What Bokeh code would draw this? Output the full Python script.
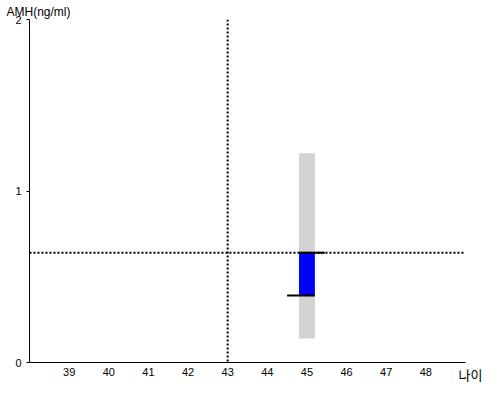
from bokeh.plotting import figure
from bokeh.models import Span, FixedTicker, Title
from bokeh.embed import file_html
from bokeh.resources import INLINE

# Data
ages = [45]
range_low = [0.14]
range_high = [1.22]
value_low = [0.39]
value_high = [0.64]
ref_age = 43
ref_amh = 0.64
x_ticks = [39, 40, 41, 42, 43, 44, 45, 46, 47, 48]
y_ticks = [0, 1, 2]
x_title = "나이"
y_title = "AMH(ng/ml)"

p = figure(width=484, height=384, x_range=(38, 49), y_range=(0, 2),
           output_backend="svg", toolbar_location=None,
           min_border_left=29, min_border_right=19, min_border_top=19, min_border_bottom=22)
p.grid.visible = False
p.outline_line_color = None

p.xaxis.ticker = FixedTicker(ticks=x_ticks)
p.yaxis.ticker = FixedTicker(ticks=y_ticks)
p.xaxis.major_tick_out = 0
p.xaxis.major_tick_in = 0
p.xaxis.minor_tick_out = 0
p.xaxis.minor_tick_in = 0
p.yaxis.major_tick_out = 3
p.yaxis.major_tick_in = 0
p.yaxis.minor_tick_out = 0
p.yaxis.minor_tick_in = 0
for ax in (p.xaxis, p.yaxis):
    ax.axis_line_color = "black"
    ax.major_tick_line_color = "black"
    ax.major_label_text_font = "Liberation Sans"
    ax.major_label_text_font_size = "11px"
    ax.major_label_text_color = "black"
    ax.major_label_standoff = 5

# Bars
p.vbar(x=ages, width=0.4, bottom=range_low, top=range_high, color="#D3D3D3", line_color=None)
p.vbar(x=ages, width=0.4, bottom=value_low, top=value_high, color="#0000FF", line_color=None)

# Reference lines
p.add_layout(Span(location=ref_age, dimension="height", line_color="black",
                  line_dash="2 2", line_width=2))
p.add_layout(Span(location=ref_amh, dimension="width", line_color="black",
                  line_dash="2 2", line_width=2))

# Marker ticks
p.segment(x0=[a - 0.2 for a in ages], y0=value_high, x1=[a + 0.45 for a in ages], y1=value_high,
          line_color="black", line_width=2)
p.segment(x0=[a - 0.5 for a in ages], y0=value_low, x1=[a + 0.2 for a in ages], y1=value_low,
          line_color="black", line_width=2)

# Y title (top-left, horizontal)
p.title.text = y_title
p.title.align = "left"
p.title.offset = -23
p.title.standoff = 2
p.title.text_font = "Liberation Sans"
p.title.text_font_size = "12px"
p.title.text_font_style = "normal"
p.title.text_color = "black"

# X title (bottom-right)
xt = Title(text=x_title, align="right", offset=-17, standoff=-28, vertical_align="top",
           text_font="Noto Sans CJK KR", text_font_size="13px", text_font_style="normal",
           text_color="black")
p.add_layout(xt, "below")

open("out.html", "w").write(file_html(p, INLINE))
